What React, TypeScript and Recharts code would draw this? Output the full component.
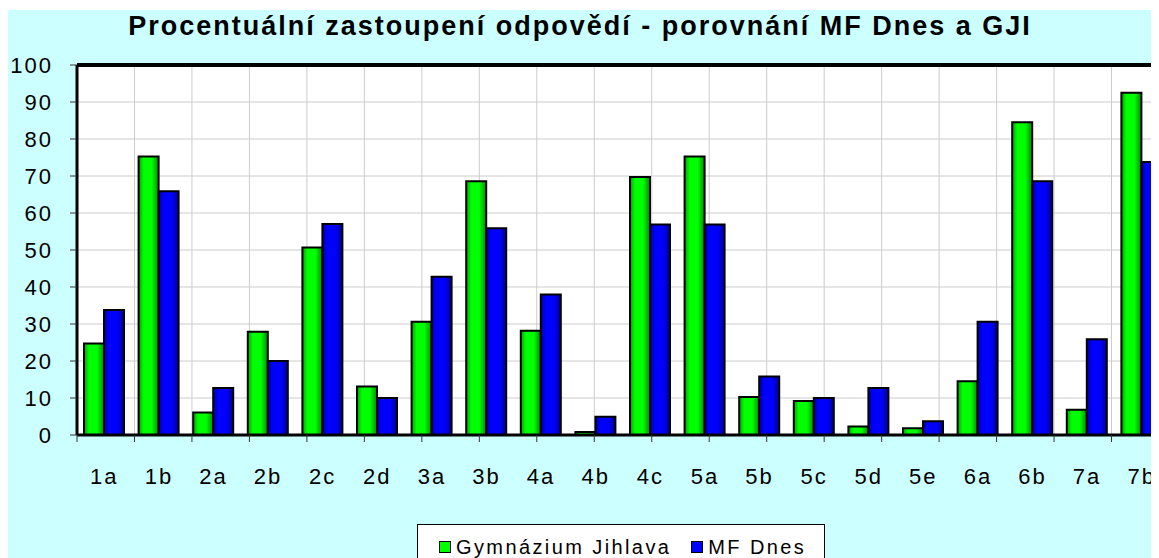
import { BarChart, Bar, XAxis, YAxis, CartesianGrid, ReferenceLine } from "recharts";

const categories = ["1a", "1b", "2a", "2b", "2c", "2d", "3a", "3b", "4a", "4b", "4c", "5a", "5b", "5c", "5d", "5e", "6a", "6b", "7a", "7b"];
const gymnaziumJihlava = [24.7, 75.3, 6.1, 27.9, 50.7, 13.1, 30.6, 68.6, 28.2, 0.8, 69.7, 75.3, 10.3, 9.2, 2.3, 1.8, 14.5, 84.5, 6.8, 92.5];
const mfDnes = [33.8, 65.9, 12.7, 20.0, 57.0, 10.0, 42.8, 55.9, 38.0, 4.9, 56.9, 56.9, 15.8, 10.0, 12.7, 3.7, 30.6, 68.6, 25.9, 73.8];
const yTicks = [0, 10, 20, 30, 40, 50, 60, 70, 80, 90, 100];
// category edges, used for the vertical gridlines and the x tick marks
const edgeTicks = categories.map((_, i) => i).concat(categories.length);

const seriesNames = ["Gymnázium Jihlava", "MF Dnes"];
const seriesColors = ["#00ff00", "#0000ff"];

const data = categories.map((name, i) => ({
  name,
  gji: gymnaziumJihlava[i],
  mf: mfDnes[i],
}));

const font = "'Liberation Sans', Arial, sans-serif";

const EmptyTick = () => <g />;

const App: React.FC = () => {
  return (
    <div
      style={{
        position: "relative",
        marginTop: 2,
        width: 1151,
        height: 548,
        overflow: "hidden",
        backgroundColor: "#ccffff",
        fontFamily: font,
      }}
    >
      <div
        style={{
          position: "absolute",
          left: 0,
          top: 3,
          width: 1144,
          textAlign: "center",
          fontSize: 27,
          lineHeight: "26px",
          fontWeight: "bold",
          letterSpacing: 2,
          color: "#000",
        }}
      >
        Procentuální zastoupení odpovědí - porovnání MF Dnes a GJI
      </div>

      <BarChart
        width={1200}
        height={560}
        data={data}
        margin={{ top: 55, right: 39, left: 0, bottom: 67 }}
        barSize={20}
        barGap={0}
        style={{ position: "absolute", left: 0, top: 0 }}
      >
        <defs>
          <linearGradient id="gGreen" x1="0" y1="0" x2="1" y2="0">
            <stop offset="0%" stopColor="#00a000" />
            <stop offset="25%" stopColor="#00ff00" />
            <stop offset="65%" stopColor="#00ff00" />
            <stop offset="100%" stopColor="#008a00" />
          </linearGradient>
          <linearGradient id="gBlue" x1="0" y1="0" x2="1" y2="0">
            <stop offset="0%" stopColor="#0000a0" />
            <stop offset="25%" stopColor="#0000ff" />
            <stop offset="65%" stopColor="#0000ff" />
            <stop offset="100%" stopColor="#000090" />
          </linearGradient>
        </defs>
        <CartesianGrid
          xAxisId="edges"
          fill="#ffffff"
          horizontal={{ stroke: "#a8a8a8", strokeWidth: 2 }}
          vertical={{ stroke: "#d0d0d0", strokeWidth: 2 }}
        />
        <XAxis
          xAxisId="edges"
          type="number"
          domain={[0, categories.length]}
          ticks={edgeTicks}
          interval={0}
          allowDataOverflow
          height={8}
          tick={EmptyTick}
          tickSize={7}
          tickLine={{ stroke: "#333" }}
          axisLine={{ stroke: "#000", strokeWidth: 3 }}
        />
        <XAxis
          xAxisId="labels"
          dataKey="name"
          interval={0}
          axisLine={false}
          tickLine={false}
          tickSize={0}
          tickMargin={25}
          height={60}
          tick={{ fill: "#000", fontSize: 22, fontFamily: font, letterSpacing: 2 }}
        />
        <YAxis
          domain={[0, 100]}
          ticks={yTicks}
          interval={0}
          width={69}
          tickSize={7}
          tickMargin={17}
          tickLine={{ stroke: "#333" }}
          axisLine={{ stroke: "#000", strokeWidth: 3 }}
          tick={{ fill: "#000", fontSize: 22, fontFamily: font, letterSpacing: 2 }}
        />
        <ReferenceLine y={100} xAxisId="edges" stroke="#000" strokeWidth={4} />
        <Bar
          xAxisId="labels"
          dataKey="gji"
          name={seriesNames[0]}
          fill="url(#gGreen)"
          stroke="#000"
          strokeWidth={2}
          isAnimationActive={false}
        />
        <Bar
          xAxisId="labels"
          dataKey="mf"
          name={seriesNames[1]}
          fill="url(#gBlue)"
          stroke="#000"
          strokeWidth={2}
          isAnimationActive={false}
        />
      </BarChart>

      <div
        style={{
          position: "absolute",
          left: 409,
          top: 514,
          width: 408,
          height: 60,
          backgroundColor: "#fff",
          border: "1px solid #000",
          boxSizing: "border-box",
          display: "flex",
          alignItems: "flex-start",
          paddingLeft: 21,
          paddingTop: 11,
          gap: 20,
        }}
      >
        {seriesNames.map((name, i) => (
          <div key={name} style={{ display: "flex", alignItems: "center" }}>
            <div
              style={{
                width: 12,
                height: 12,
                boxSizing: "border-box",
                border: "1.5px solid #000",
                backgroundColor: seriesColors[i],
                marginRight: 5,
              }}
            />
            <span style={{ fontSize: 20, lineHeight: "22px", letterSpacing: 2.4, color: "#000" }}>{name}</span>
          </div>
        ))}
      </div>
    </div>
  );
};

export default App;
